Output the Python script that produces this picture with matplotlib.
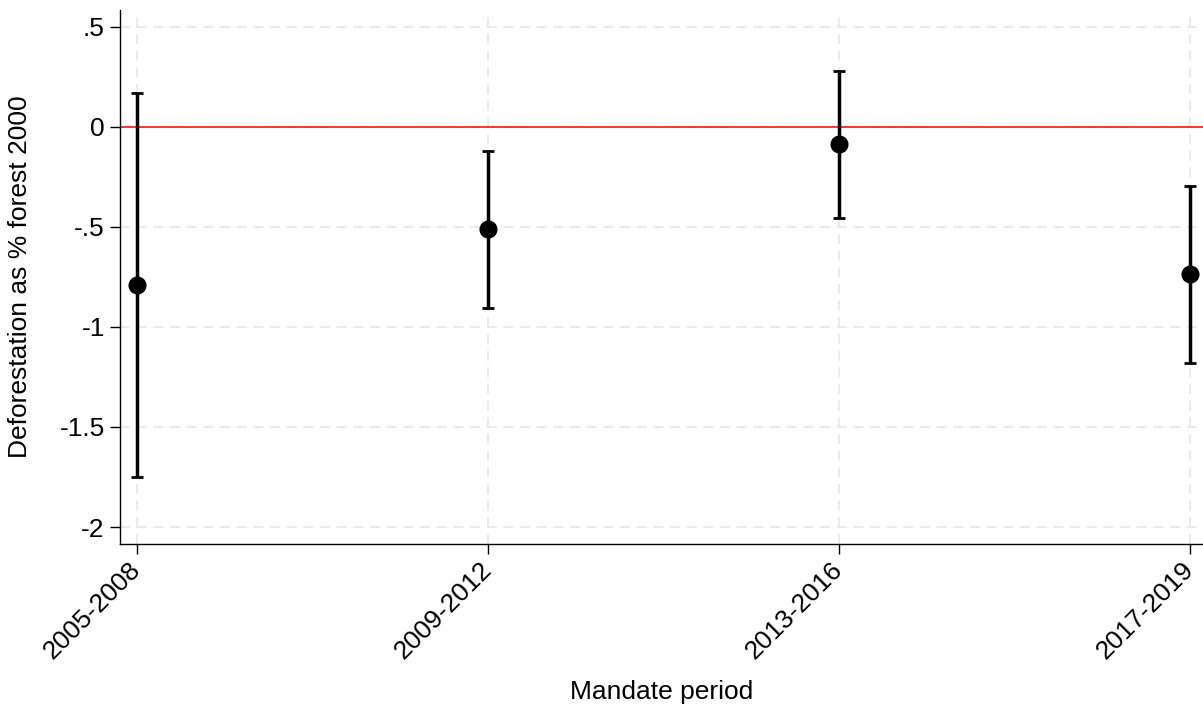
import numpy as np
import matplotlib.pyplot as plt

# Mandate periods and estimates (with 95% CI)
periods = ['2005-2008', '2009-2012', '2013-2016', '2017-2019']
coef = [-0.79, -0.51, -0.085, -0.735]
ci_low = [-1.75, -0.905, -0.455, -1.18]
ci_high = [0.17, -0.12, 0.28, -0.295]

yticks = [0.5, 0, -0.5, -1, -1.5, -2]
ytick_labels = ['.5', '0', '-.5', '-1', '-1.5', '-2']

plt.rcParams['font.family'] = ['Liberation Sans', 'DejaVu Sans']

fig = plt.figure(figsize=(12.03, 7.09), dpi=100)
ax = fig.add_axes([0.0998, 0.2327, 0.9002, 0.7533])

x = np.arange(len(periods))
coef = np.array(coef)
err = np.vstack([coef - np.array(ci_low), np.array(ci_high) - coef])

ax.axhline(0, color='red', linewidth=1.1, zorder=2)
ax.errorbar(x, coef, yerr=err, fmt='o', color='black', ecolor='black',
            elinewidth=2.5, capsize=4, capthick=2, markersize=12, zorder=3)

ax.set_xlim(-0.047, 3.038)
ax.set_ylim(-2.085, 0.585)

ax.set_yticks(yticks)
ax.set_yticklabels(ytick_labels, fontsize=19)
ax.set_xticks(x)
ax.set_xticklabels(periods, fontsize=19, rotation=45, ha='right',
                   va='center', rotation_mode='anchor')
ax.tick_params(axis='both', length=7, width=1, color='black', pad=4)
ax.tick_params(axis='x', pad=9)

ax.grid(True, color='#e8e8e8', linestyle=(0, (6, 4)), linewidth=1.2, zorder=0)
ax.set_axisbelow(True)

for side in ['top', 'right']:
    ax.spines[side].set_visible(False)
ax.spines['left'].set_linewidth(1)
ax.spines['bottom'].set_linewidth(1)

ax.set_xlabel('Mandate period', fontsize=19)
ax.set_ylabel('Deforestation as % forest 2000', fontsize=19)
ax.xaxis.set_label_coords(0.5, -0.255)
ax.yaxis.set_label_coords(-0.081, 0.5)

fig.savefig('out.png', dpi=100)
